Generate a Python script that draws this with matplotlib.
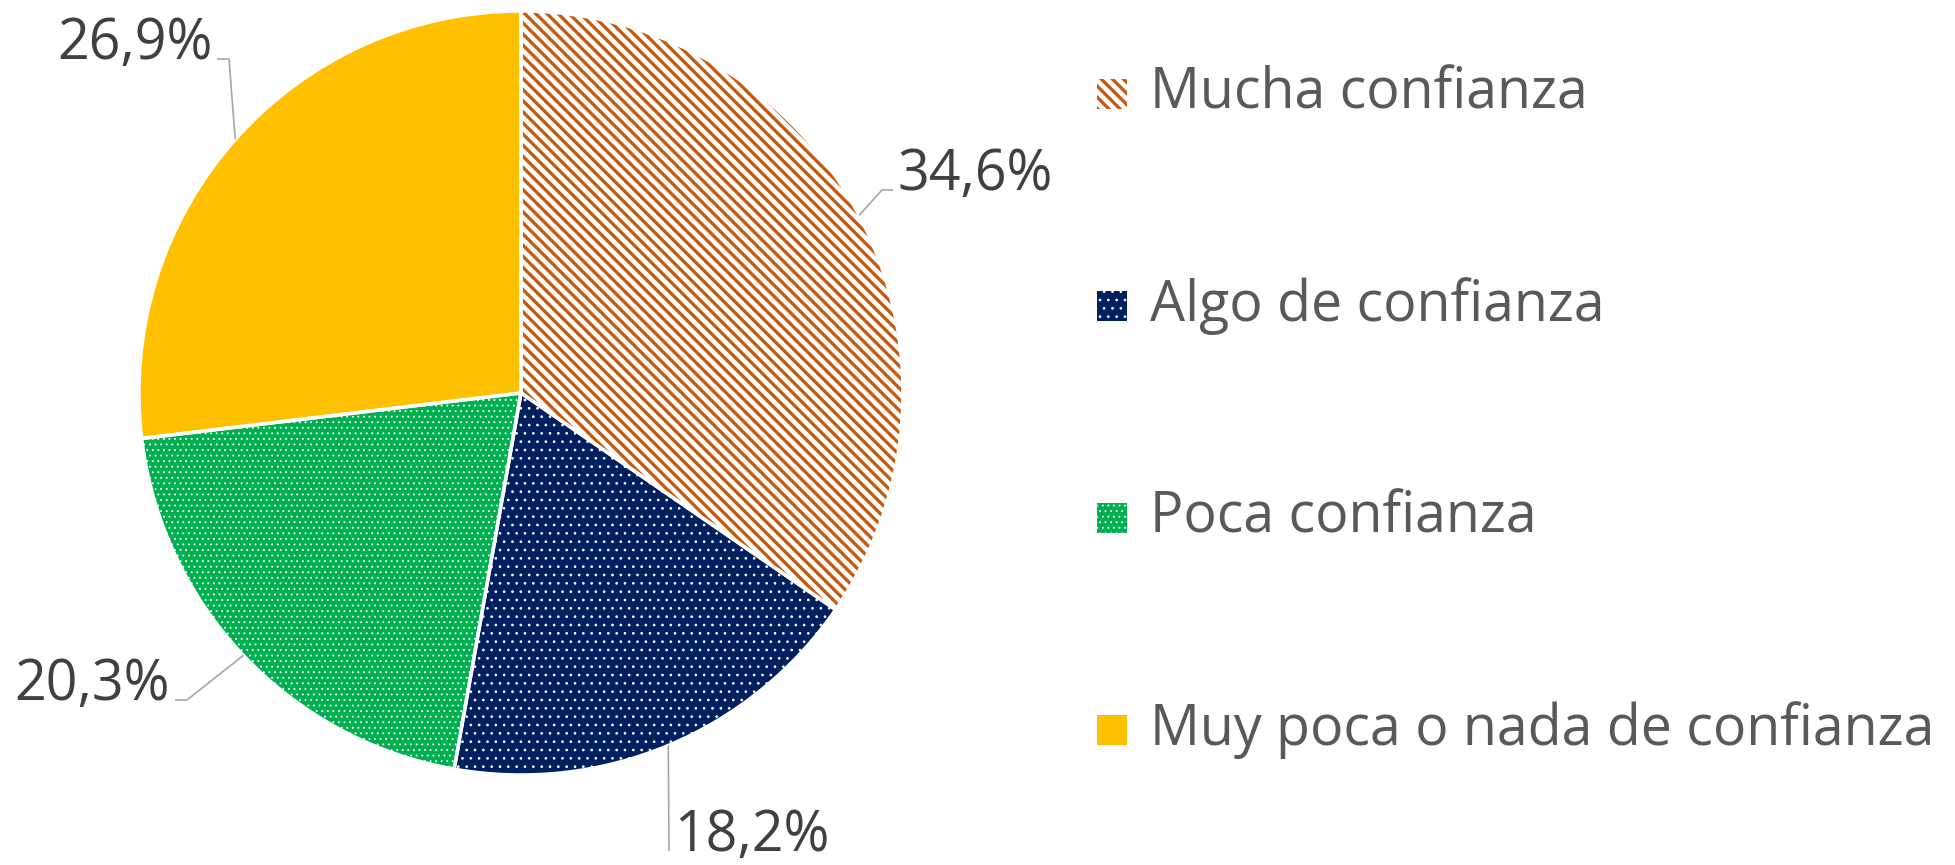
import matplotlib
matplotlib.use("Agg")
import matplotlib.pyplot as plt
from matplotlib.patches import Rectangle
import numpy as np

# data
categories = ["Mucha confianza", "Algo de confianza", "Poca confianza",
              "Muy poca o nada de confianza"]
shares = [34.6, 18.2, 20.3, 26.9]
value_labels = ["34,6%", "18,2%", "20,3%", "26,9%"]

face_colors = ["white", "#002060", "#00B050", "#FFC000"]
hatch_colors = ["#C55A11", "white", "white", "#FFC000"]
# agg draws 6 hatch lines per char per inch
hatches = ["\\\\\\", "..", "...", None]
hatch_widths = [2.4, 0.7, 0.6, 1.0]

plt.rcParams["font.family"] = ["Open Sans", "DejaVu Sans"]

W, H = 1955, 865
fig = plt.figure(figsize=(W / 100, H / 100), dpi=100)
ax = fig.add_axes([0, 0, 1, 1])

# pie placed in pixel units (y measured from the bottom)
cx, cy, r = 521, H - 393, 382

wedges, _ = ax.pie(shares, colors=face_colors, startangle=90, counterclock=False,
                   center=(cx, cy), radius=r, wedgeprops=dict(linewidth=0))
for w, hc, ht, hw in zip(wedges, hatch_colors, hatches, hatch_widths):
    w.set_edgecolor(hc)
    if ht:
        w.set_hatch(ht)
        w.set_hatch_linewidth(hw)

# white separators on top
ax.pie(shares, colors=["none"] * 4, startangle=90, counterclock=False,
       center=(cx, cy), radius=r,
       wedgeprops=dict(linewidth=2.5, edgecolor="white", facecolor="none"))

ax.set_xlim(0, W)
ax.set_ylim(0, H)
ax.set_aspect("auto")
ax.axis("off")

# leader lines start at mid-angle of each slice
ends = np.cumsum(shares)
mids = 90 - (ends - np.array(shares) / 2) / 100 * 360
# (knee, end, text x, alignment) in image pixels
leaders = [
    ((882, 190), (893, 190), 898, "left"),
    ((669, 851), (669, 851), 674, "left"),
    ((187, 700), (175, 700), 170, "right"),
    ((229, 59), (217, 59), 213, "right"),
]
for ang, lab, (knee, end, tx, ha) in zip(mids, value_labels, leaders):
    a = np.deg2rad(ang)
    sx, sy = cx + r * np.cos(a), cy + r * np.sin(a)
    ax.plot([sx, knee[0], end[0]], [sy, H - knee[1], H - end[1]],
            color="#A6A6A6", lw=1.2, solid_capstyle="butt")
    ax.text(tx, H - end[1], lab, ha=ha, va="baseline", fontsize=40, color="#404040")

# legend drawn by hand
rows = [94, 306, 518, 730]
for y, cat, fc, hc, ht, hw in zip(rows, categories, face_colors, hatch_colors,
                                  hatches, hatch_widths):
    box = Rectangle((1097, H - y - 15), 30, 30, facecolor=fc, edgecolor=hc,
                    linewidth=0, hatch=ht)
    if ht:
        box.set_hatch_linewidth(hw)
    ax.add_patch(box)
    ax.text(1150, H - y, cat, ha="left", va="center", fontsize=40, color="#595959")

fig.savefig("out.png", dpi=100)
